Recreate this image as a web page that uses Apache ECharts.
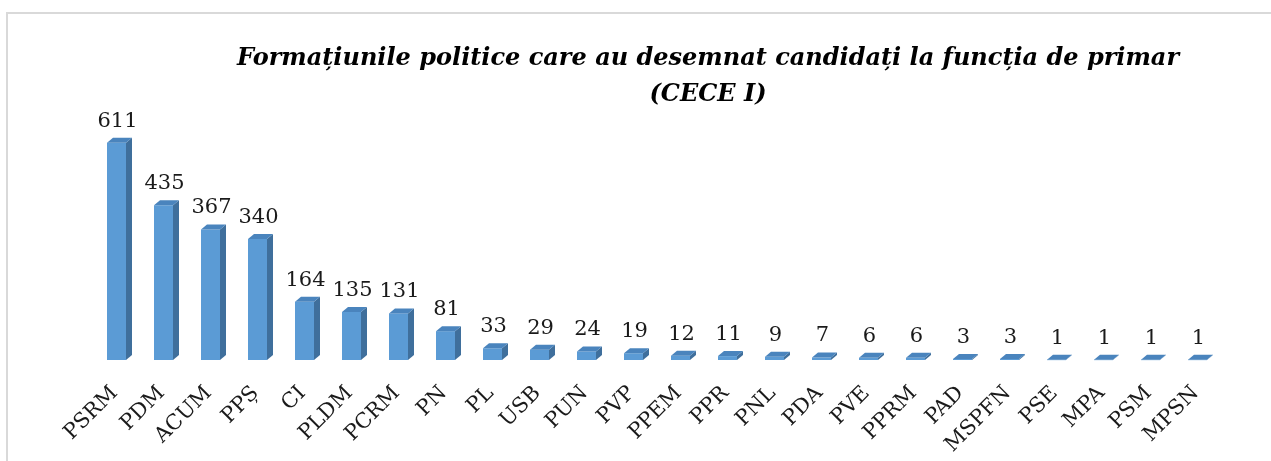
<!DOCTYPE html>
<html>
<head>
<meta charset="utf-8">
<script src="https://cdn.jsdelivr.net/npm/echarts@6/dist/echarts.min.js"></script>
<style>html,body{margin:0;padding:0;background:#fff}#c{width:1271px;height:461px}</style>
</head>
<body>
<div id="c"></div>
<script>
const categories = ['PSRM','PDM','ACUM','PPȘ','CI','PLDM','PCRM','PN','PL','USB','PUN','PVP','PPEM','PPR','PNL','PDA','PVE','PPRM','PAD','MSPFN','PSE','MPA','PSM','MPSN'];
const values = [611,435,367,340,164,135,131,81,33,29,24,19,12,11,9,7,6,6,3,3,1,1,1,1];
const titleLine1 = 'Formațiunile politice care au desemnat candidați la funcția de primar';
const titleLine2 = '(CECE I)';

const FRONT = '#5b9bd5', SIDE = '#3f6f9c', TOP = '#4a84bd';
const FONT = 'DejaVu Serif';

function renderItem(params, api) {
  const idx = api.value(0);
  const val = api.value(1);
  const top = api.coord([idx, val]);
  const base = api.coord([idx, 0]);
  const cx = top[0];
  const fl = cx - 12.5, fr = cx + 6.5, d = 6, dy = 5;
  const ty = top[1], by = base[1];
  return {
    type: 'group',
    children: [
      { type: 'polygon', shape: { points: [[fr, ty], [fr + d, ty - dy], [fr + d, by - dy], [fr, by]] }, style: { fill: SIDE } },
      { type: 'rect', shape: { x: fl, y: ty, width: fr - fl, height: Math.max(by - ty, 0.5) }, style: { fill: FRONT } },
      { type: 'polygon', shape: { points: [[fl, ty], [fr, ty], [fr + d, ty - dy], [fl + d, ty - dy]] }, style: { fill: TOP } },
      { type: 'text', style: { text: String(val), x: (fl + fr) / 2 + 1, y: ty - 11, align: 'center', verticalAlign: 'bottom', font: '21px "' + FONT + '"', fill: '#1a1a1a' } }
    ]
  };
}

const chart = echarts.init(document.getElementById('c'));
chart.setOption({
  animation: false,
  backgroundColor: '#fff',
  graphic: [
    { type: 'rect', shape: { x: 7, y: 13, width: 1400, height: 600 }, style: { fill: 'none', stroke: '#d9d9d9', lineWidth: 2 } },
    { type: 'text', x: 708, y: 59, style: { text: titleLine1, align: 'center', verticalAlign: 'middle', font: 'italic bold 24px "' + FONT + '"', fill: '#000' } },
    { type: 'text', x: 708, y: 95, style: { text: titleLine2, align: 'center', verticalAlign: 'middle', font: 'italic bold 24px "' + FONT + '"', fill: '#000' } }
  ],
  grid: { left: 96, width: 1128, top: 111, bottom: 101, containLabel: false },
  xAxis: {
    type: 'category', data: categories, boundaryGap: true,
    axisLine: { show: false }, axisTick: { show: false },
    axisLabel: { interval: 0, rotate: 45, margin: 25, padding: [0, 7, 0, 0], fontFamily: FONT, fontSize: 21, color: '#1a1a1a' }
  },
  yAxis: { type: 'value', min: 0, max: 700, show: false, splitLine: { show: false } },
  series: [{
    type: 'custom',
    renderItem: renderItem,
    data: values.map((v, i) => [i, v]),
    encode: { x: 0, y: 1 }
  }]
});
</script>
</body>
</html>
